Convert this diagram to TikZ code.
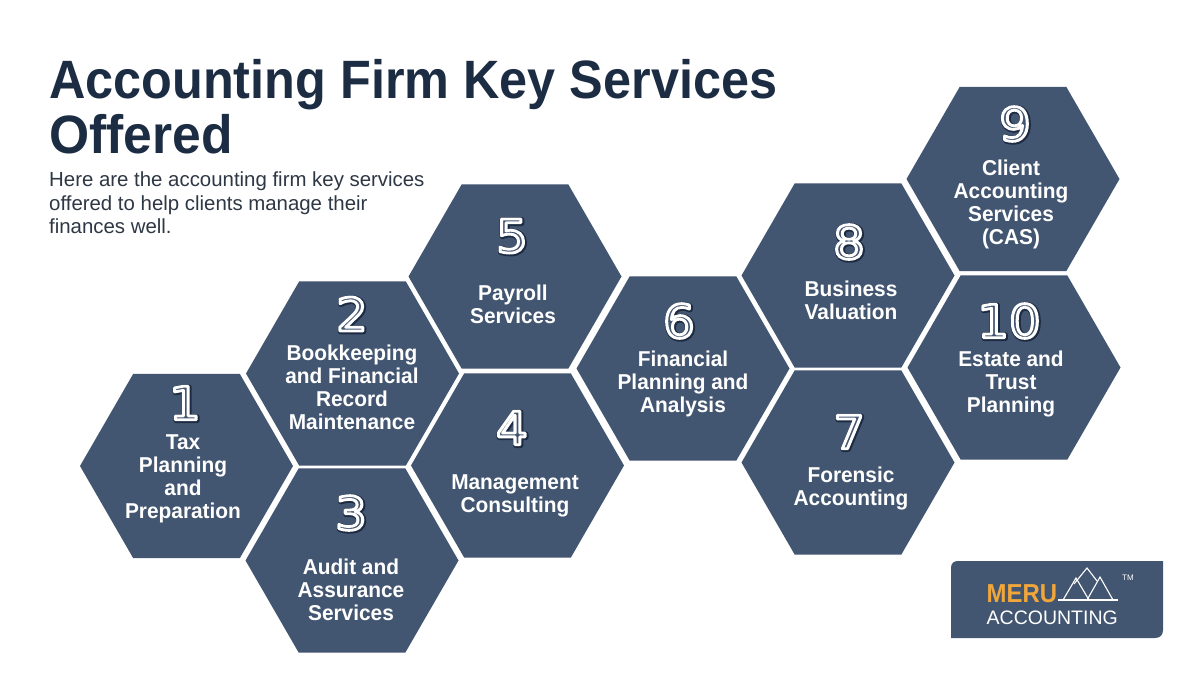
\documentclass[tikz,border=0pt]{standalone}
\usepackage{fontspec}
\usepackage{graphicx}
\setmainfont{Liberation Sans}
\newfontfamily\digitfont{DejaVu Sans}
\usetikzlibrary{shapes.geometric}
\definecolor{hexfill}{HTML}{435671}
\definecolor{titleink}{HTML}{1C2C42}
\definecolor{bodyink}{HTML}{2E3744}
\definecolor{meruorange}{HTML}{F0A63A}
\tikzset{
  x=1pt,y=-1pt,
  hexa/.style={regular polygon,regular polygon sides=6,fill=hexfill,minimum size=213pt,inner sep=0pt,outer sep=0pt},
  hexlabel/.style={text=white,font=\fontsize{21.5}{23}\selectfont\bfseries,align=center,inner sep=0pt},
  numlayer/.style={inner sep=0pt,font=\digitfont\fontsize{46}{46}\selectfont},
  headline/.style={anchor=base west,inner sep=0pt,text=titleink,font=\fontsize{54}{54}\selectfont\bfseries},
  subline/.style={anchor=base west,inner sep=0pt,text=bodyink,font=\fontsize{20.4}{24}\selectfont},
  mountain/.style={draw=white,line width=1.1pt,line join=miter},
}
\newcommand{\hexcell}[7]{%
  \node[hexa] (h#1) at (#2,#3) {};
  \node[numlayer,text=titleink] (nd#1) at (#4+0.8,#5+0.8) {\scalebox{1.08}[1]{\special{pdf:code q 2 Tr 5 w 1 j 0.11 0.17 0.26 RG}#1\special{pdf:code 0 Tr Q}}};
  \node[numlayer,text=hexfill] (nc#1) at (#4,#5) {\scalebox{1.08}[1]{#1}};
  \node[numlayer,text=white] (nw#1) at (#4,#5) {\scalebox{1.08}[1]{\special{pdf:code q 1 Tr 2.8 w 1 j 1 1 1 RG}#1\special{pdf:code 0 Tr Q}}};
  \node[hexlabel] (t#1) at (#6,#7) {\scalebox{0.97}[1]{\begin{tabular}{@{}c@{}}\hexbody\end{tabular}}};
}
\begin{document}
\begin{tikzpicture}
\useasboundingbox (0,0) rectangle (1200,675);
\fill[white] (0,0) rectangle (1200,675);
\node[headline] (title1) at (49,98) {\scalebox{0.933}[1]{Accounting Firm Key Services}};
\node[headline] (title2) at (49,153) {\scalebox{0.955}[1]{Offered}};
\node[subline] (sub1) at (49,186) {Here are the accounting firm key services};
\node[subline] (sub2) at (49,210) {offered to help clients manage their};
\node[subline] (sub3) at (49,233) {finances well.};
\def\hexbody{Tax\\Planning\\and\\Preparation}\hexcell{1}{186.5}{466}{185}{403}{183}{479.5}
\def\hexbody{Bookkeeping\\and Financial\\Record\\Maintenance}\hexcell{2}{352.5}{373.5}{352}{314}{352}{390}
\def\hexbody{Audit and\\Assurance\\Services}\hexcell{3}{352}{560.5}{351}{513}{351}{593}
\def\hexbody{Management\\Consulting}\hexcell{4}{517.5}{465.5}{512}{428}{515}{496}
\def\hexbody{Payroll\\Services}\hexcell{5}{515}{276.5}{512}{236}{513}{307}
\def\hexbody{Financial\\Planning and\\Analysis}\hexcell{6}{683}{368.5}{679}{321}{683}{385}
\def\hexbody{Forensic\\Accounting}\hexcell{7}{848}{462.5}{849}{432}{851}{489}
\def\hexbody{Business\\Valuation}\hexcell{8}{848}{275.5}{849}{242}{851}{303}
\def\hexbody{Client\\Accounting\\Services\\(CAS)}\hexcell{9}{1013}{179}{1015}{124}{1011}{205}
\def\hexbody{Estate and\\Trust\\Planning}\hexcell{10}{1014}{367.5}{1009}{321}{1011}{385}
% logo
\fill[hexfill] (951,638) -- (951,568) .. controls (951,563) and (954,561) .. (958,561) -- (1163,561) -- (1163,630) .. controls (1163,635) and (1160,638) .. (1155,638) -- cycle;
\node[anchor=base west,inner sep=0pt,text=meruorange,font=\fontsize{26}{26}\selectfont\bfseries] (meru) at (986.5,602) {\scalebox{0.92}[1]{MERU}};
\node[anchor=base west,inner sep=0pt,text=white,font=\fontsize{19.5}{20}\selectfont] (acc) at (986.5,624) {ACCOUNTING};
\node[anchor=center,inner sep=0pt,text=white,font=\fontsize{8}{8}\selectfont] (tm) at (1128,578) {TM};
\draw[mountain] (1058,600) -- (1118,600);
\draw[mountain] (1063,600) -- (1076,578) -- (1089,600);
\draw[mountain] (1074,584) -- (1087,568) -- (1097,581);
\draw[mountain] (1087,600) -- (1100,577) -- (1113,600);
\end{tikzpicture}
\end{document}
